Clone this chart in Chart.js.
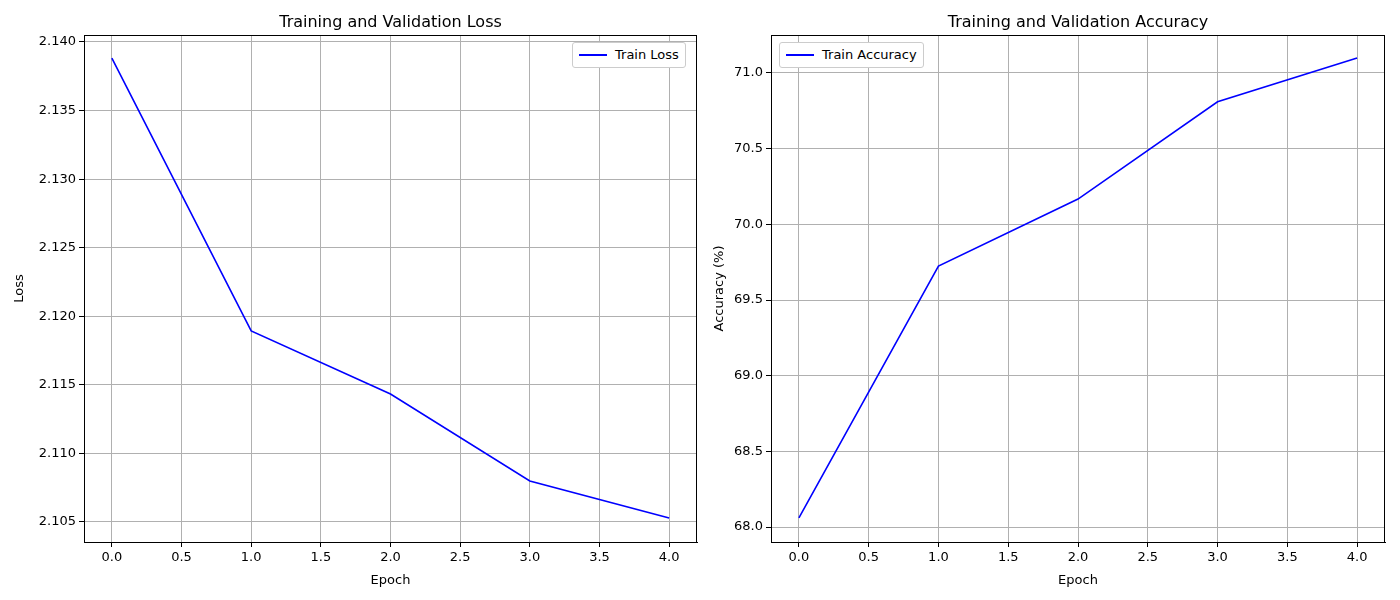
<!DOCTYPE html>
<html><head><script src="https://cdn.jsdelivr.net/npm/chart.js@4"></script>
<style>
body{margin:0;width:1400px;height:600px;background:#fff;font-family:"DejaVu Sans";position:relative;overflow:hidden}
.c{position:absolute;top:0;width:700px;height:600px}
.t{position:absolute;top:12px;font-size:16px;text-align:center}
.lg{position:absolute;top:42px;border:1px solid #ccc;border-radius:3px;background:#fff;font-size:13px;padding:4px 6px 5px 6px;display:flex;align-items:center}
.lg span{display:inline-block;width:28px;height:2px;background:#0000ff;margin-right:8px}
</style></head><body>
<div class="c" style="left:0"><canvas id="a"></canvas></div>
<div class="c" style="left:700px"><canvas id="b"></canvas></div>
<div class="t" style="left:84px;width:613px">Training and Validation Loss</div>
<div class="t" style="left:771px;width:614px">Training and Validation Accuracy</div>
<div class="lg" style="left:572px"><span></span>Train Loss</div>
<div class="lg" style="left:779px"><span></span>Train Accuracy</div>
<script>
const epochs=[0,1,2,3,4];
const trainLoss=[2.13883,2.11893,2.11433,2.10799,2.10529];
const trainAcc=[68.06,69.724,70.167,70.81,71.099];
const F={family:"DejaVu Sans",size:13};
const frame={id:'frame',afterDraw(c){const a=c.chartArea,x=c.ctx;x.save();x.strokeStyle='#000';x.lineWidth=1;x.strokeRect(Math.round(a.left)+0.5,Math.round(a.top)+0.5,Math.round(a.right-a.left)-1,Math.round(a.bottom-a.top));x.restore();}};
function mk(id,vals,label,ytitle,ymin,ymax,step,yw,rp,dec){
 new Chart(document.getElementById(id),{type:'line',plugins:[frame],
 data:{datasets:[{label,data:epochs.map((e,i)=>({x:e,y:vals[i]})),borderColor:'#0000ff',borderWidth:1.6,pointRadius:0,tension:0}]},
 options:{responsive:false,animation:false,devicePixelRatio:1,
  layout:{padding:{top:35,right:rp,left:0,bottom:0}},
  plugins:{legend:{display:false},tooltip:{enabled:false}},
  scales:{
   x:{type:'linear',min:-0.2,max:4.2,afterBuildTicks:a=>{a.ticks=[0,0.5,1,1.5,2,2.5,3,3.5,4].map(v=>({value:v}))},
      afterFit:a=>{a.height=58},
      ticks:{color:'#000',font:F,maxRotation:0,callback:v=>v.toFixed(1)},
      grid:{color:'#b0b0b0',tickColor:'#000',tickLength:5},border:{color:'#000'},
      title:{display:true,text:'Epoch',color:'#000',font:F,padding:{top:2,bottom:12}}},
   y:{min:ymin,max:ymax,afterBuildTicks:a=>{const t=[];for(let v=Math.ceil(ymin/step-1e-9)*step;v<=ymax+1e-9;v+=step)t.push({value:+v.toFixed(4)});a.ticks=t},
      afterFit:a=>{a.width=yw},
      ticks:{color:'#000',font:F,callback:v=>v.toFixed(dec)},
      grid:{color:'#b0b0b0',tickColor:'#000',tickLength:5},border:{color:'#000'},
      title:{display:true,text:ytitle,color:'#000',font:F,padding:{top:12,bottom:4}}}
  }}});
}
document.getElementById('a').width=700;document.getElementById('a').height=600;
document.getElementById('b').width=700;document.getElementById('b').height=600;
mk('a',trainLoss,'Train Loss','Loss',2.10354,2.14051,0.005,84,3,3);
mk('b',trainAcc,'Train Accuracy','Accuracy (%)',67.901,71.251,0.5,71,15,1);
</script></body></html>
